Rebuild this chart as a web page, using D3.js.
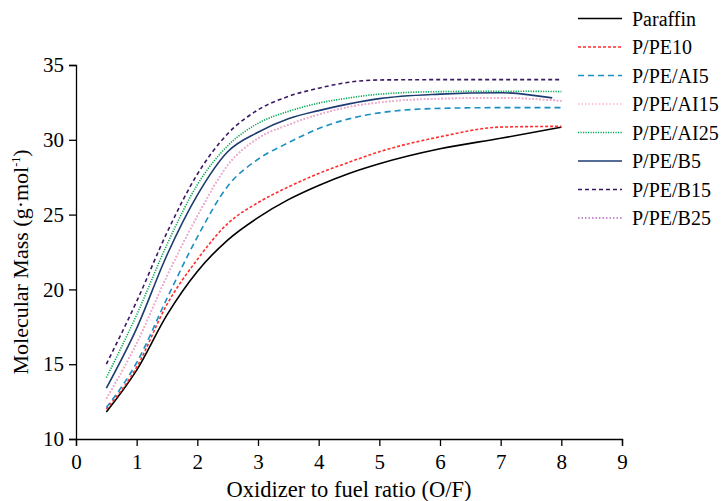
<!DOCTYPE html>
<html>
<head>
<meta charset="utf-8">
<script src="https://cdn.jsdelivr.net/npm/d3@7"></script>
<style>
  html, body { margin: 0; padding: 0; background: #fff; }
  svg { display: block; }
  svg text { font-family: "Liberation Serif", "Times New Roman", serif; }
</style>
</head>
<body>
<svg id="chart" width="725" height="501"></svg>
<script>
// O/F ratios at which molecular mass was sampled
const ratios = [0.5, 1, 1.5, 2, 2.5, 3, 3.5, 4, 4.5, 5, 6, 7, 8];

// Molecular mass (g·mol-1) per propellant formulation
const paraffin = [11.8, 14.6, 18.3, 21.2, 23.3, 24.8, 26.0, 26.95, 27.75, 28.4, 29.4, 30.1, 30.85];
const pPE10    = [12.0, 14.8, 19.0, 22.0, 24.4, 25.8, 26.85, 27.75, 28.5, 29.2, 30.2, 30.85, 30.9];
const pPEAI5   = [12.1, 15.1, 19.4, 23.5, 26.9, 28.7, 29.8, 30.75, 31.4, 31.8, 32.1, 32.15, 32.15];
const pPEAI15  = [12.7, 16.4, 20.9, 24.9, 28.3, 30.1, 31.0, 31.7, 32.2, 32.5, 32.75, 32.8, 32.6];
const pPEAI25  = [14.1, 18.3, 23.0, 27.0, 29.6, 31.1, 31.9, 32.45, 32.8, 33.05, 33.22, 33.25, 33.22];
const pPEB5    = [13.4, 17.4, 22.3, 26.3, 29.2, 30.5, 31.4, 31.95, 32.4, 32.75, 33.05, 33.15, 32.8];
const pPEB15   = [15.0, 19.2, 23.8, 27.7, 30.4, 32.0, 32.9, 33.45, 33.85, 34.0, 34.02, 34.02, 34.02];
const pPEB25   = [12.7, 16.4, 20.9, 24.9, 28.3, 30.1, 31.0, 31.7, 32.2, 32.5, 32.75, 32.8, 32.6];

const xTicks = [0, 1, 2, 3, 4, 5, 6, 7, 8, 9];
const yTicks = [10, 15, 20, 25, 30, 35];

// Series definitions: name, values, stroke, dash pattern, legend position
const series = [
  { name: "P/PE/B25",  values: pPEB25,   color: "#b467c4", dash: "1.5,2",   order: 7 },
  { name: "Paraffin",  values: paraffin, color: "#000000", dash: null,      order: 0 },
  { name: "P/PE10",    values: pPE10,    color: "#ff2d2d", dash: "3,2",     order: 1 },
  { name: "P/PE/AI5",  values: pPEAI5,   color: "#1a8fc4", dash: "6,4",     order: 2 },
  { name: "P/PE/AI15", values: pPEAI15,  color: "#ffb4c8", dash: "1.5,2",   order: 3 },
  { name: "P/PE/AI25", values: pPEAI25,  color: "#00a651", dash: "1.2,1.3", order: 4 },
  { name: "P/PE/B5",   values: pPEB5,    color: "#1d3b70", dash: null,      order: 5 },
  { name: "P/PE/B15",  values: pPEB15,   color: "#3a1763", dash: "4,3",     order: 6 }
];
// the B5 run stops a little before O/F = 8
const xEnd = { "P/PE/B5": 7.85 };

const serif = "'Liberation Serif', 'Times New Roman', serif";
const svg = d3.select("#chart");
const x = d3.scaleLinear().domain([0, 9]).range([76, 622]);
const y = d3.scaleLinear().domain([10, 35]).range([439, 65]);

// axes
const xAxis = svg.append("g").attr("transform", `translate(0,${y(10)})`)
  .call(d3.axisBottom(x).tickValues(xTicks).tickSize(7).tickPadding(6).tickFormat(d3.format("d")));
const yAxis = svg.append("g").attr("transform", `translate(${x(0)},0)`)
  .call(d3.axisLeft(y).tickValues(yTicks).tickSize(7).tickPadding(5).tickFormat(d3.format("d")));
[xAxis, yAxis].forEach(g => {
  g.attr("font-family", serif).attr("font-size", 21);
  g.select(".domain").attr("stroke", "#000").attr("stroke-width", 1.3);
  g.selectAll(".tick line").attr("stroke", "#000").attr("stroke-width", 1.3);
  g.selectAll(".tick text").attr("fill", "#000").style("font-family", serif).style("font-size", "21px");
});
xAxis.selectAll(".tick text").attr("dy", "0.8em");

// axis titles
svg.append("text").attr("x", (x(0) + x(9)) / 2).attr("y", 497)
  .attr("text-anchor", "middle").style("font-family", serif).style("font-size", "22.5px").attr("fill", "#000")
  .text("Oxidizer to fuel ratio (O/F)");

const yt = svg.append("text")
  .attr("transform", `translate(28,${(y(10) + y(35)) / 2 + 10}) rotate(-90)`)
  .attr("text-anchor", "middle").style("font-family", serif).style("font-size", "22px").attr("fill", "#000");
yt.append("tspan").text("Molecular Mass (g·mol");
yt.append("tspan").attr("dy", "-8").style("font-size", "12px").text("-1");
yt.append("tspan").attr("dy", "8").text(")");

// curves
const line = d3.line().x(d => x(d[0])).y(d => y(d[1])).curve(d3.curveMonotoneX);
series.forEach(s => {
  const pts = ratios.map((r, i) => [r, s.values[i]]);
  if (xEnd[s.name]) pts[pts.length - 1][0] = xEnd[s.name];
  svg.append("path").datum(pts)
    .attr("fill", "none").attr("stroke", s.color).attr("stroke-width", 1.6)
    .attr("stroke-dasharray", s.dash).attr("d", line);
});

// legend
const legendOrder = series.slice().sort((a, b) => a.order - b.order);
const lg = svg.append("g");
legendOrder.forEach((s, i) => {
  const yy = 18.5 + i * 28.5;
  lg.append("line").attr("x1", 578).attr("x2", 622).attr("y1", yy).attr("y2", yy)
    .attr("stroke", s.color).attr("stroke-width", 1.6).attr("stroke-dasharray", s.dash);
  lg.append("text").attr("x", 632).attr("y", yy).attr("dy", "0.35em")
    .style("font-family", serif).style("font-size", "20px").attr("fill", "#000").text(s.name);
});
</script>
</body>
</html>
